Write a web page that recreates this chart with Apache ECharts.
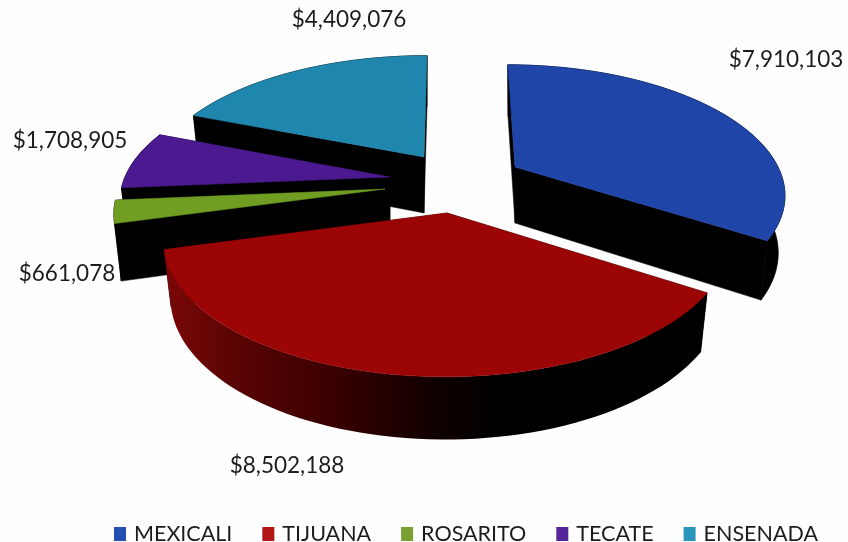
<!DOCTYPE html>
<html><head><meta charset="utf-8">
<style>html,body{margin:0;padding:0;background:#fff}#c{width:848px;height:542px}</style>
<script src="https://cdn.jsdelivr.net/npm/echarts@6/dist/echarts.min.js"></script>
</head><body><div id="c"></div>
<script>
const categories = ['MEXICALI','TIJUANA','ROSARITO','TECATE','ENSENADA'];
const amounts = [7910103, 8502188, 661078, 1708905, 4409076];
const legendColors = ['#2350b0','#b01818','#7aa032','#55259a','#2a95bb'];
const topColors = ['#1f45a8','#9c0505','#6f9e22','#4b1a90','#1f86ad'];

// 3D look: per-slice exploded apex, radii and perspective lean
const look = [
  {cx:515,cy:167,rx:263,ry:122,lean:-44,z:2,lx:786,ly:60},
  {cx:447,cy:213,rx:278,ry:132,lean:8,z:6,lx:287,ly:466},
  {cx:385,cy:189,rx:266,ry:125,lean:0,z:5,lx:67,ly:274},
  {cx:390,cy:177,rx:265,ry:123,lean:0,z:4,lx:70,ly:141},
  {cx:424,cy:157,rx:267,ry:121,lean:19,z:3,lx:349,ly:20}
];
const persp = 0.194, depth = 56, shrink = 0.975;
const total = amounts.reduce((a,b)=>a+b,0);
const fmt = v => '$' + v.toLocaleString('en-US');

function topPoint(g, deg){
  const t = deg*Math.PI/180, s = 1/(1+persp*Math.cos(t));
  return {x:g.cx+g.rx*Math.sin(t)*s+g.lean*(1-s), y:g.cy-g.ry*Math.cos(t)*s, s};
}
function lower(g, p){
  return [g.cx+(p.x-g.cx)*shrink, p.y+depth*(1+0.5*(p.s-1))];
}
function slicePolys(i){
  const g = look[i];
  let a0 = 0; for(let k=0;k<i;k++) a0 += amounts[k]/total*360;
  const a1 = a0 + amounts[i]/total*360;
  const rim = [];
  const n = Math.max(8, Math.ceil((a1-a0)/2));
  for(let k=0;k<=n;k++) rim.push(topPoint(g, a0+(a1-a0)*k/n));
  const apex = {x:g.cx,y:g.cy,s:1};
  const xy = p => [p.x,p.y];
  const top = [[g.cx,g.cy]].concat(rim.map(xy));
  const wall = rim.map(xy).concat(rim.slice().reverse().map(p=>lower(g,p)));
  const cut = p => [xy(apex), xy(p), lower(g,p), lower(g,apex)];
  return {top, wall, cutA:cut(rim[0]), cutB:cut(rim[n])};
}
const wallFill = i => i===1 ? {type:'linear',x:0,y:0,x2:1,y2:0,colorStops:[
  {offset:0,color:'#7c0808'},{offset:0.12,color:'#5c0404'},{offset:0.3,color:'#3c0000'},
  {offset:0.5,color:'#100000'},{offset:0.62,color:'#000000'},{offset:1,color:'#000000'}]} : '#000000';

const series = categories.map((name,i)=>({
  type:'custom', name, coordinateSystem:'none', z:look[i].z, silent:true, animation:false,
  itemStyle:{color:legendColors[i]},
  data:[[amounts[i]]],
  renderItem:(params,api)=>{
    const p = slicePolys(i);
    const poly = (points,fill)=>({type:'polygon',shape:{points},style:{fill,stroke:fill===topColors[i]?fill:'#000',lineWidth:0.5}});
    return {type:'group',children:[
      poly(p.cutA,'#000000'),poly(p.cutB,'#000000'),
      {type:'polygon',shape:{points:p.wall},style:i===1?{fill:wallFill(i)}:{fill:'#000000',stroke:'#000',lineWidth:0.8}},
      poly(p.top,topColors[i]),
      {type:'text',style:{text:fmt(api.value(0)),x:look[i].lx,y:look[i].ly,textAlign:'center',textVerticalAlign:'middle',
        fill:'#1c1c1c',font:'22.5px Lato'}}
    ]};
  }
}));

const chart = echarts.init(document.getElementById('c'));
chart.setOption({
  backgroundColor:'#fefefe',
  animation:false,
  legend:{data:categories,left:109,top:518,itemWidth:12,itemHeight:14,itemGap:30,icon:'rect',
    textStyle:{fontFamily:'Lato',fontSize:21.5,color:'#1c1c1c',padding:[0,0,0,3]}},
  series
});
</script></body></html>
